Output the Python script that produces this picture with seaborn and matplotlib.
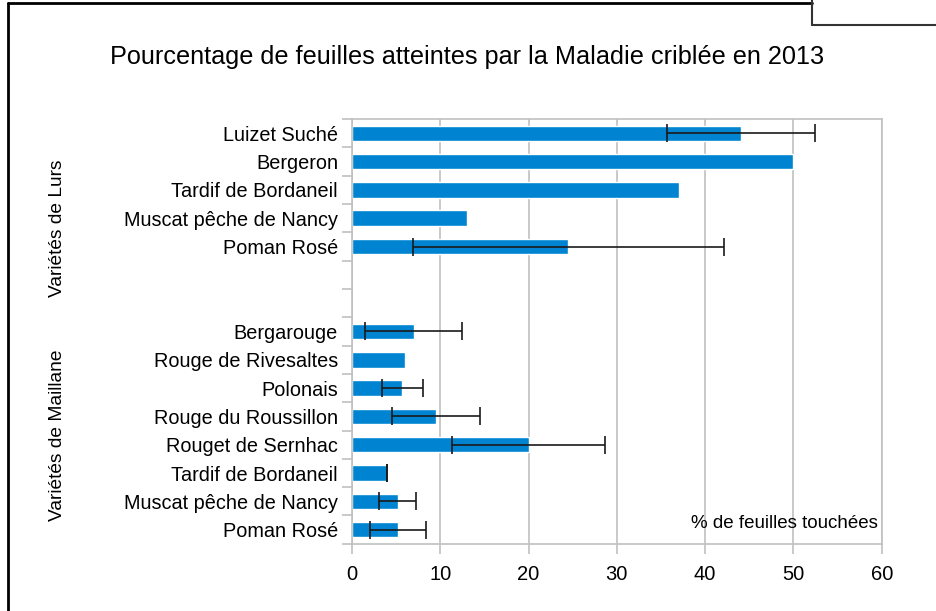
import numpy as np
import pandas as pd
import seaborn as sns
import matplotlib.pyplot as plt
from matplotlib.lines import Line2D

# data (two blank slots separate the two groups)
varietes = ['Luizet Suché', 'Bergeron', 'Tardif de Bordaneil', 'Muscat pêche de Nancy', 'Poman Rosé',
            ' ', '  ',
            'Bergarouge', 'Rouge de Rivesaltes', 'Polonais', 'Rouge du Roussillon',
            'Rouget de Sernhac', 'Tardif de Bordaneil ', 'Muscat pêche de Nancy ', 'Poman Rosé ']
pct_touchees = [44.1, 50.0, 37.0, 13.0, 24.5,
                np.nan, np.nan,
                7.0, 6.0, 5.7, 9.5, 20.0, 4.0, 5.2, 5.2]
erreur = [8.4, np.nan, np.nan, np.nan, 17.6,
          np.nan, np.nan,
          5.5, np.nan, 2.3, 5.0, 8.7, 0.0, 2.1, 3.2]

df = pd.DataFrame({'variete': varietes, 'pct': pct_touchees, 'err': erreur})

sns.set_style('white')
plt.rcParams['font.family'] = ['Liberation Sans', 'DejaVu Sans']
plt.rcParams['text.color'] = 'black'
plt.rcParams['xtick.color'] = 'black'
plt.rcParams['ytick.color'] = 'black'

fig = plt.figure(figsize=(9.36, 6.11), dpi=100)
ax = fig.add_axes([0.376, 0.110, 0.566, 0.695])

sns.barplot(data=df, x='pct', y='variete', orient='h', color='#0084D1',
            width=0.55, saturation=1, ax=ax, order=varietes)

pos = np.arange(len(varietes))
ax.errorbar(df['pct'], pos, xerr=df['err'], fmt='none', ecolor='#1a1a1a',
            elinewidth=1.2, capsize=6.5, capthick=1.2, zorder=5)

ax.set_xlim(0, 60)
ax.set_ylim(len(varietes) - 0.5, -0.5)
ax.set_xticks(range(0, 61, 10))
ax.set_xlabel('')
ax.set_ylabel('')
ax.grid(axis='x', color='#c0c0c0', linewidth=1.2)
ax.set_axisbelow(True)
for s in ax.spines.values():
    s.set_color('#c0c0c0')
    s.set_linewidth(1.2)

# tick marks between categories, labels at centres
ax.set_yticks(pos)
ax.set_yticklabels([v.strip() for v in varietes], fontsize=14.3)
ax.set_yticks(np.arange(-0.5, len(varietes), 1), minor=True)
ax.tick_params(axis='y', which='major', length=0, pad=10)
ax.tick_params(axis='y', which='minor', length=7, color='#c0c0c0', width=1.2, left=True)
ax.tick_params(axis='x', length=7, color='#c0c0c0', labelcolor='black', width=1.2,
               labelsize=14.5, pad=8, bottom=True)

ax.text(59.6, 13.8, '% de feuilles touchées', fontsize=13.5, ha='right', va='center')

fig.suptitle('Pourcentage de feuilles atteintes par la Maladie criblée en 2013',
             x=0.499, y=0.927, fontsize=18.2)
fig.text(0.061, 0.626, 'Variétés de Lurs', rotation=90, fontsize=13.8, ha='center', va='center')
fig.text(0.061, 0.288, 'Variétés de Maillane', rotation=90, fontsize=13.8, ha='center', va='center')

# frame of the screenshot
fig.add_artist(Line2D([0.0088, 0.0088], [0, 0.995], color='black', linewidth=2, transform=fig.transFigure))
fig.add_artist(Line2D([0.0088, 0.868], [0.995, 0.995], color='black', linewidth=2, transform=fig.transFigure))
fig.add_artist(Line2D([0.868, 0.868], [1, 0.959], color='#333333', linewidth=1.5, transform=fig.transFigure))
fig.add_artist(Line2D([0.868, 1], [0.959, 0.959], color='#333333', linewidth=1.5, transform=fig.transFigure))

fig.savefig('out.png', dpi=100)
